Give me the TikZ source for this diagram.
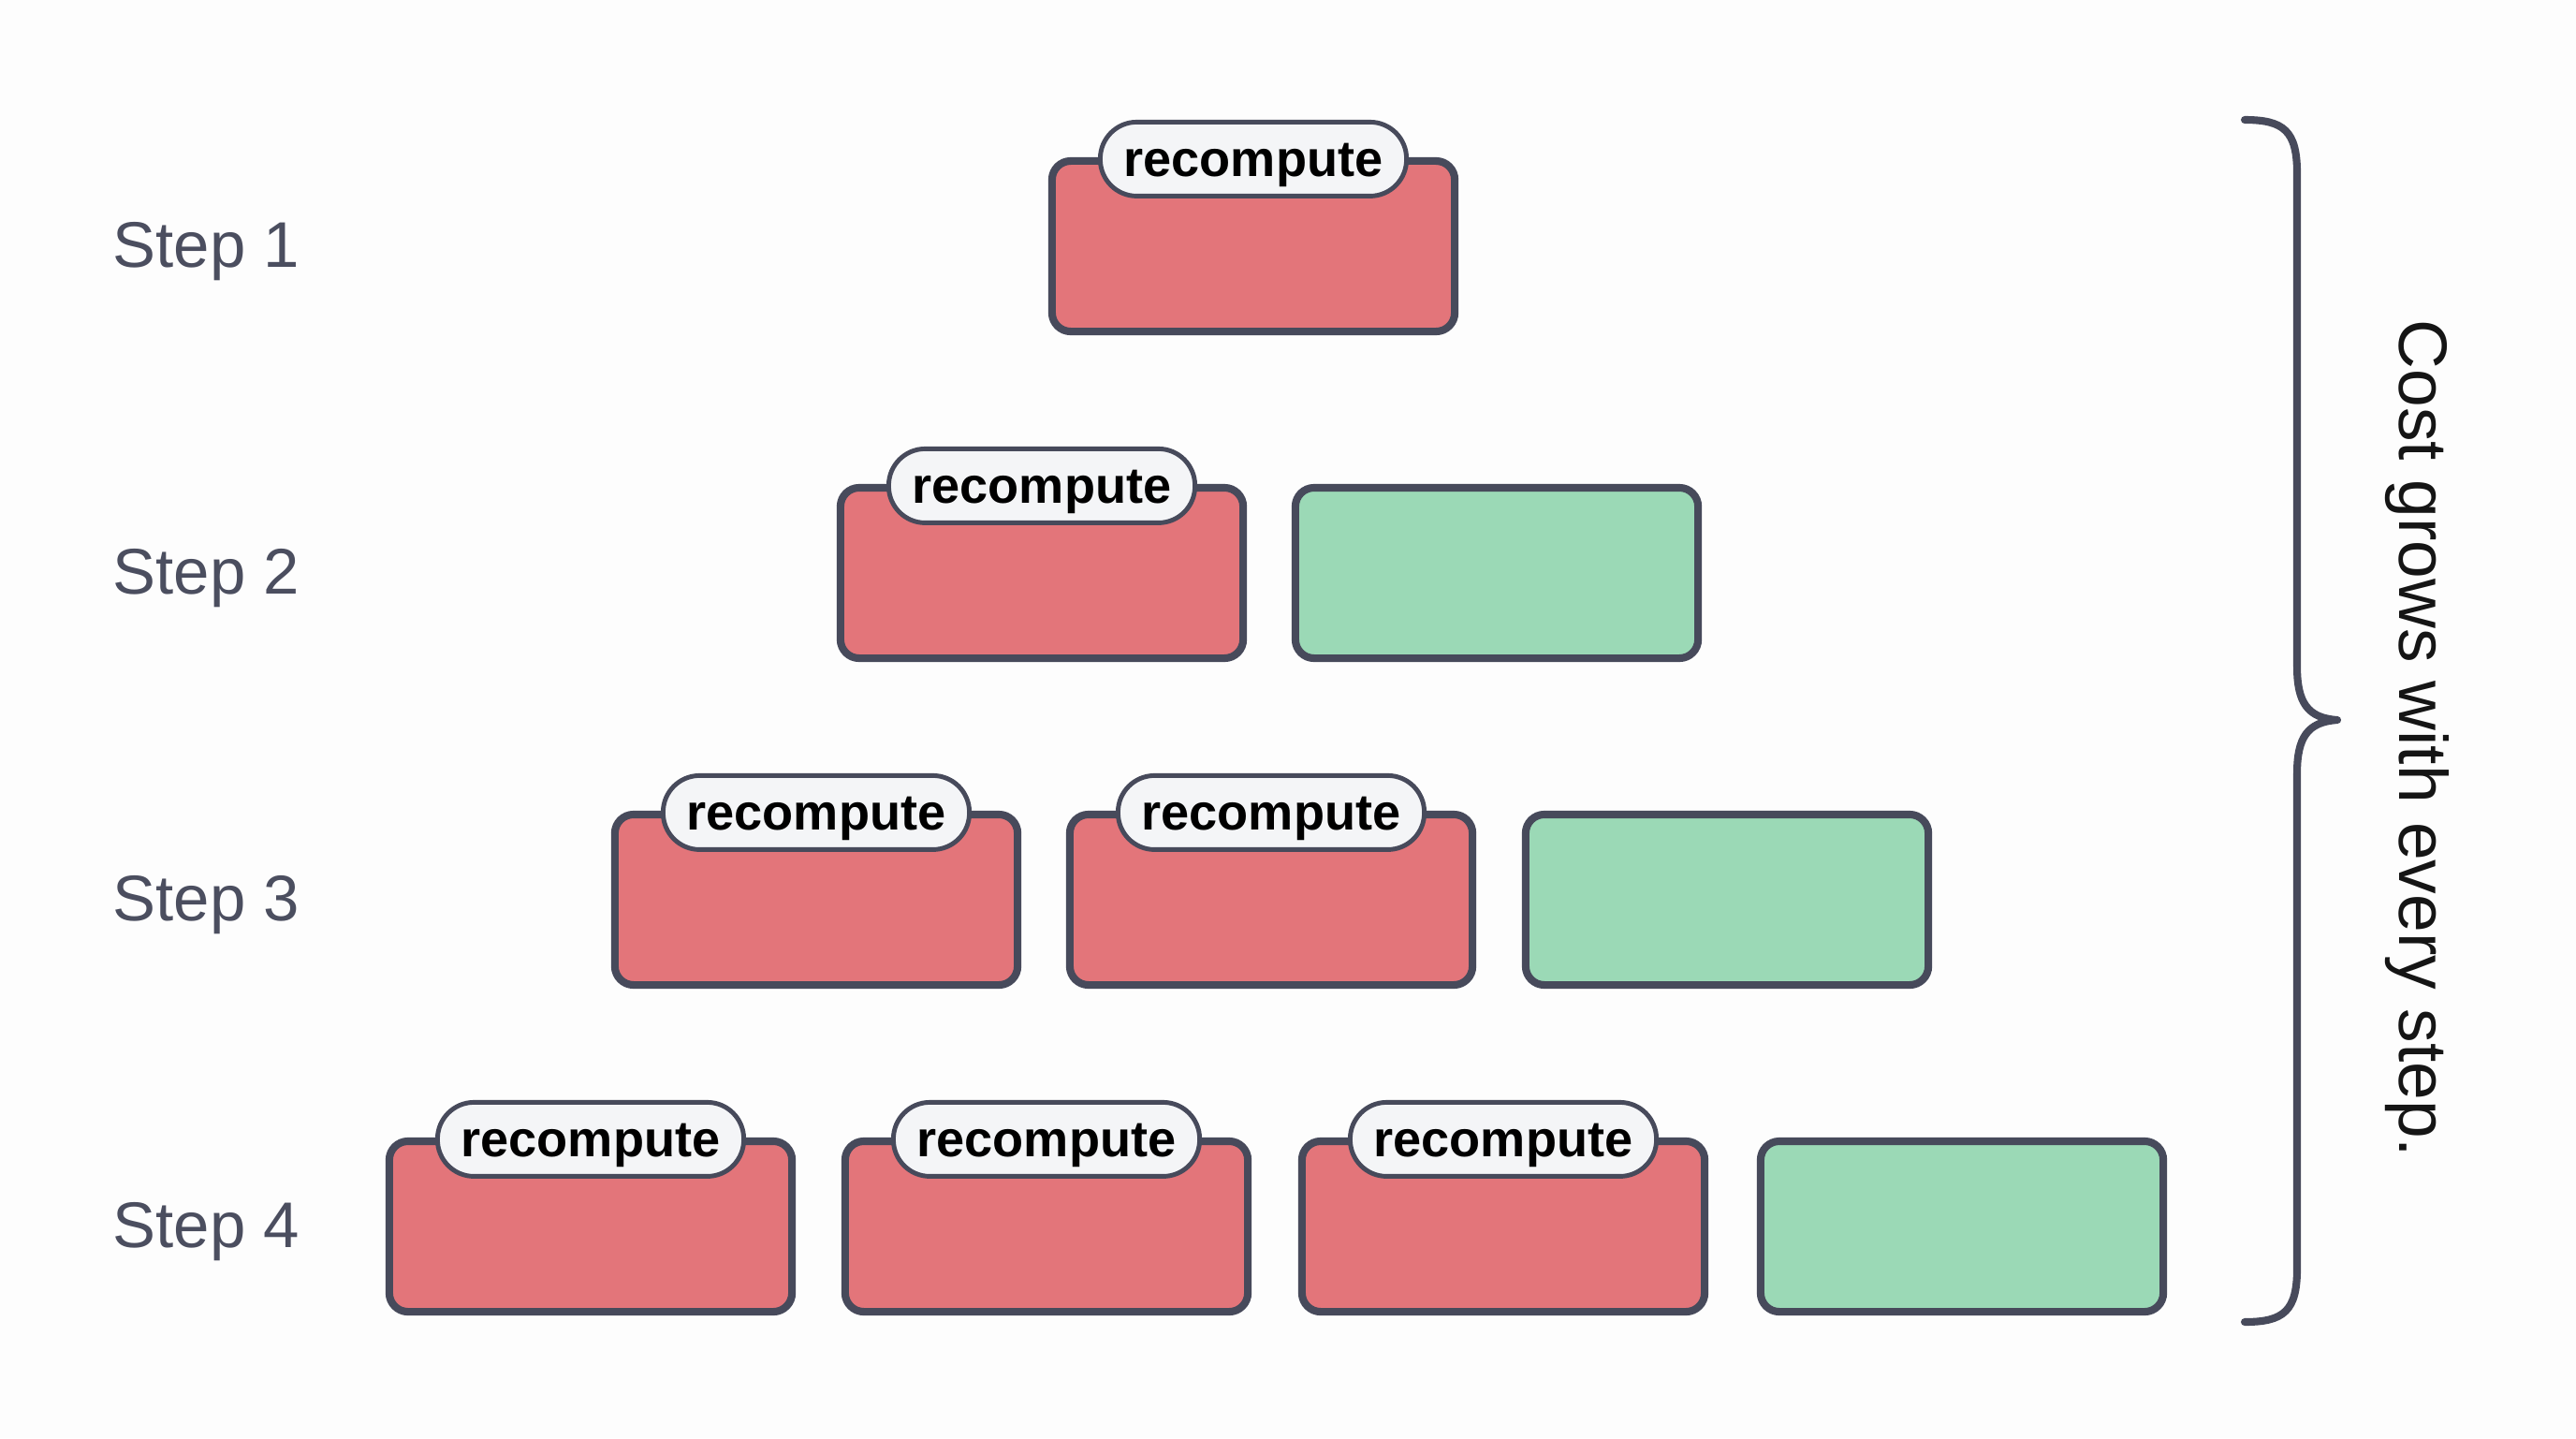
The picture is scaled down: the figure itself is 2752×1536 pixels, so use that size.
\documentclass[tikz,border=0pt]{standalone}
\usepackage{fontspec}
\setmainfont{Liberation Sans}
\definecolor{bgc}{HTML}{FDFDFD}
\definecolor{edgec}{HTML}{474A5B}
\definecolor{redc}{HTML}{E3757A}
\definecolor{greenc}{HTML}{9BD9B6}
\definecolor{pillc}{HTML}{F4F5F7}
\definecolor{labelc}{HTML}{4B4E5F}
\definecolor{textc}{HTML}{151515}
\tikzset{
  blockbase/.style={draw=edgec, line width=2.3pt, rounded corners=0.2cm,
    minimum width=4.30cm, minimum height=1.82cm, inner sep=0pt},
  redblock/.style={blockbase, fill=redc},
  greenblock/.style={blockbase, fill=greenc},
  pill/.style={draw=edgec, line width=1.4pt, fill=pillc, rounded corners=0.39cm,
    minimum width=3.27cm, minimum height=0.79cm, inner sep=0pt,
    text height=0.38cm, text depth=0pt,
    font=\fontsize{15.4}{15.4}\selectfont\bfseries, text=black},
  steplabel/.style={anchor=base west, inner sep=0pt, text=labelc,
    font=\fontsize{19.6}{20}\selectfont},
  bracestyle/.style={draw=edgec, line width=2.3pt, line cap=round, line join=round}
}
\begin{document}
\begin{tikzpicture}[x=0.01cm, y=-0.01cm]
\fill[bgc] (0,0) rectangle (2752,1536);
\useasboundingbox (0,0) rectangle (2752,1536);

% Step labels
\node[steplabel] (l1) at (120,285) {Step 1};
\node[steplabel] (l2) at (120,634) {Step 2};
\node[steplabel] (l3) at (120,983) {Step 3};
\node[steplabel] (l4) at (120,1332) {Step 4};

% Row 1
\node[redblock] (b11) at (1339,263) {};
% Row 2
\node[redblock] (b21) at (1113,612) {};
\node[greenblock] (b22) at (1599,612) {};
% Row 3
\node[redblock] (b31) at (872,961) {};
\node[redblock] (b32) at (1358,961) {};
\node[greenblock] (b33) at (1845,961) {};
% Row 4
\node[redblock] (b41) at (631,1310) {};
\node[redblock] (b42) at (1118,1310) {};
\node[redblock] (b43) at (1606,1310) {};
\node[greenblock] (b44) at (2096,1310) {};

% Pills
\foreach \b in {b11,b21,b31,b32,b41,b42,b43}{
  \node[pill] (p\b) at ([yshift=-0.02cm]\b.north) {recompute};
}

% Brace
\coordinate (bt) at (2398,128);
\coordinate (bm) at (2497,769);
\coordinate (bb) at (2398,1412);
\draw[bracestyle] (bt) .. controls (2440,128) and (2454,140) .. (2454,185)
  -- (2454,712) .. controls (2454,750) and (2465,767) .. (bm)
  .. controls (2465,771) and (2454,788) .. (2454,826)
  -- (2454,1355) .. controls (2454,1400) and (2440,1412) .. (bb);

% Brace label
\node[rotate=-90, anchor=base, inner sep=0pt, text=textc,
  font=\fontsize{20.8}{21}\selectfont] (cost) at (2563,789) {Cost grows with every step.};
\end{tikzpicture}
\end{document}
